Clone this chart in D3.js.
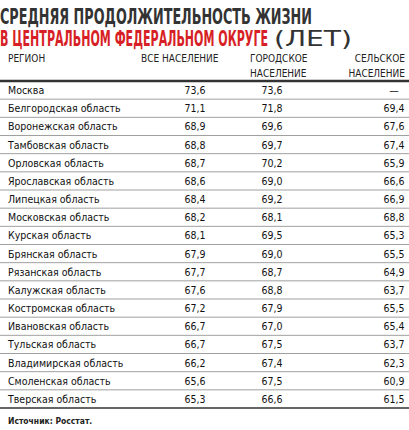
<!DOCTYPE html>
<html><head><meta charset="utf-8">
<script src="https://cdn.jsdelivr.net/npm/d3@7"></script>
<style>body{margin:0;background:#fff}</style>
</head><body>
<script>
const regions = ['Москва','Белгородская область','Воронежская область','Тамбовская область','Орловская область','Ярославская область','Липецкая область','Московская область','Курская область','Брянская область','Рязанская область','Калужская область','Костромская область','Ивановская область','Тульская область','Владимирская область','Смоленская область','Тверская область'];
const allPop   = ['73,6','71,1','68,9','68,8','68,7','68,6','68,4','68,2','68,1','67,9','67,7','67,6','67,2','66,7','66,7','66,2','65,6','65,3'];
const urbanPop = ['73,6','71,8','69,6','69,7','70,2','69,0','69,2','68,1','69,5','69,0','68,7','68,8','67,9','67,0','67,5','67,4','67,5','66,6'];
const ruralPop = ['—','69,4','67,6','67,4','65,9','66,6','66,9','68,8','65,3','65,5','64,9','63,7','65,5','65,4','63,7','62,3','60,9','61,5'];
const headers = [['РЕГИОН'], ['ВСЕ НАСЕЛЕНИЕ'], ['ГОРОДСКОЕ','НАСЕЛЕНИЕ'], ['СЕЛЬСКОЕ','НАСЕЛЕНИЕ']];

const W = 409, H = 430;
const FONT = "'DejaVu Sans Condensed','Liberation Sans Narrow',sans-serif";
const svg = d3.select('body').append('svg').attr('width', W).attr('height', H)
  .style('font-family', FONT);

/* title */
svg.append('text').attr('x', 0).attr('y', 24).attr('fill', '#333')
  .style('font-size', '22px').style('font-weight', 'bold')
  .attr('textLength', 312).attr('lengthAdjust', 'spacingAndGlyphs')
  .text('СРЕДНЯЯ ПРОДОЛЖИТЕЛЬНОСТЬ ЖИЗНИ');
svg.append('text').attr('x', 0).attr('y', 46).attr('fill', '#d71f26')
  .style('font-size', '22px').style('font-weight', 'bold')
  .attr('textLength', 268).attr('lengthAdjust', 'spacingAndGlyphs')
  .text('В ЦЕНТРАЛЬНОМ ФЕДЕРАЛЬНОМ ОКРУГЕ');
svg.append('text').attr('x', 274).attr('y', 46).attr('fill', '#333')
  .style('font-size', '22px')
  .attr('textLength', 78).attr('lengthAdjust', 'spacingAndGlyphs')
  .text('(ЛЕТ)');

/* columns */
const colX = [8, 141, 250, 405];
headers.forEach((lines, i) => {
  lines.forEach((l, j) => {
    svg.append('text').attr('x', colX[i]).attr('y', 62 + j * 15)
      .attr('text-anchor', i === 3 ? 'end' : 'start')
      .attr('fill', '#222').style('font-size', '10px').text(l);
  });
});

const y = d3.scaleBand().domain(regions).range([81, 408]);
svg.append('line').attr('x1', 0).attr('x2', W).attr('y1', 81).attr('y2', 81)
  .attr('stroke', '#333').attr('stroke-width', 2.5);

const rows = svg.selectAll('g.row').data(regions).join('g').attr('class', 'row')
  .attr('transform', d => `translate(0,${y(d)})`);
rows.filter((d, i) => i > 0).append('line').attr('x1', 0).attr('x2', W)
  .attr('stroke', '#888').attr('stroke-width', 0.8);
const mid = y.bandwidth() / 2 + 4;
rows.append('text').attr('x', 8).attr('y', mid).style('font-size', '10.5px').attr('fill', '#111').text(d => d);
const numCols = [[allPop, 195], [urbanPop, 272], [ruralPop, 394]];
numCols.forEach(([vals, x]) => {
  rows.append('text').attr('x', x).attr('y', mid).attr('text-anchor', 'middle')
    .style('font-size', '10.5px').attr('fill', '#111').text((d, i) => vals[i]);
});
svg.append('line').attr('x1', 0).attr('x2', W).attr('y1', 408).attr('y2', 408)
  .attr('stroke', '#333').attr('stroke-width', 1.5);

svg.append('text').attr('x', 8).attr('y', 424).style('font-size', '8.5px')
  .style('font-weight', 'bold').attr('fill', '#222').text('Источник: Росстат.');
</script>
</body></html>
